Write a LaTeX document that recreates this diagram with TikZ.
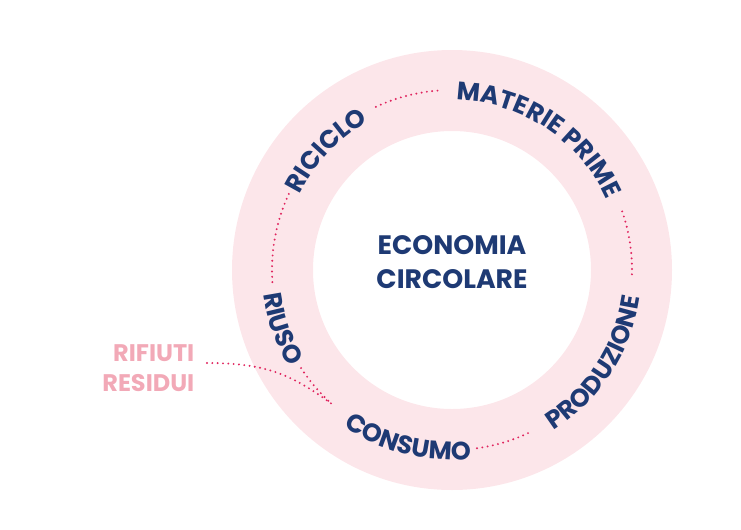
\documentclass[tikz,border=0pt]{standalone}
\usepackage{fontspec}
\newfontfamily\labelfont{Poppins Bold}
\usetikzlibrary{decorations.text}
\definecolor{navy}{HTML}{1E3A74}
\definecolor{ringpink}{HTML}{FCE6EA}
\definecolor{dotred}{HTML}{E0245E}
\definecolor{softpink}{HTML}{F2A9B7}
\tikzset{
  dots/.style={dotred, line width=1.6pt, line cap=round, dash pattern=on 0pt off 4pt},
  ringtext/.style={decorate, decoration={text along path, text align=center,
    text color=navy, text={|\labelfont\fontsize{19}{22}\selectfont|#1}}}
}
\begin{document}
\begin{tikzpicture}[x=0.75pt,y=0.75pt]
  \useasboundingbox (-452,-259) rectangle (289,270);
  % ring
  \fill[ringpink, even odd rule] (0,0) circle[radius=220] (0,0) circle[radius=139];
  % centre
  \node[navy, align=center, font=\labelfont\fontsize{20}{25}\selectfont] (center) at (0,8) {ECONOMIA\\CIRCOLARE};
  % labels along the ring
  \path[ringtext=MATERIE PRIME] (94:170) arc[start angle=94, end angle=19, radius=170];
  \path[ringtext=RICICLO] (157:170) arc[start angle=157, end angle=116, radius=170];
  \path[ringtext=PRODUZIONE] (-63:190) arc[start angle=-63, end angle=-3, radius=190];
  \path[ringtext=CONSUMO] (-130:190) arc[start angle=-130, end angle=-79, radius=190];
  \path[ringtext=RIUSO] (185:190) arc[start angle=185, end angle=213, radius=190];
  % dotted links
  \draw[dots] (115:180) arc[start angle=115, end angle=93, radius=180];
  \draw[dots] (19:180) arc[start angle=19, end angle=-3, radius=180];
  \draw[dots] (-82:180) arc[start angle=-82, end angle=-64, radius=180];
  \draw[dots] (155:180) arc[start angle=155, end angle=185, radius=180];
  \draw[dots] (213:180) arc[start angle=213, end angle=228, radius=180];
  % waste
  \node[softpink, align=right, anchor=east, font=\labelfont\fontsize{18}{22}\selectfont] (waste) at (-253,-98) {RIFIUTI\\RESIDUI};
  \coordinate (join) at (228:180);
  \draw[dots] (-245,-93) .. controls (-185,-93) and (-160,-105) .. (join);
\end{tikzpicture}
\end{document}
